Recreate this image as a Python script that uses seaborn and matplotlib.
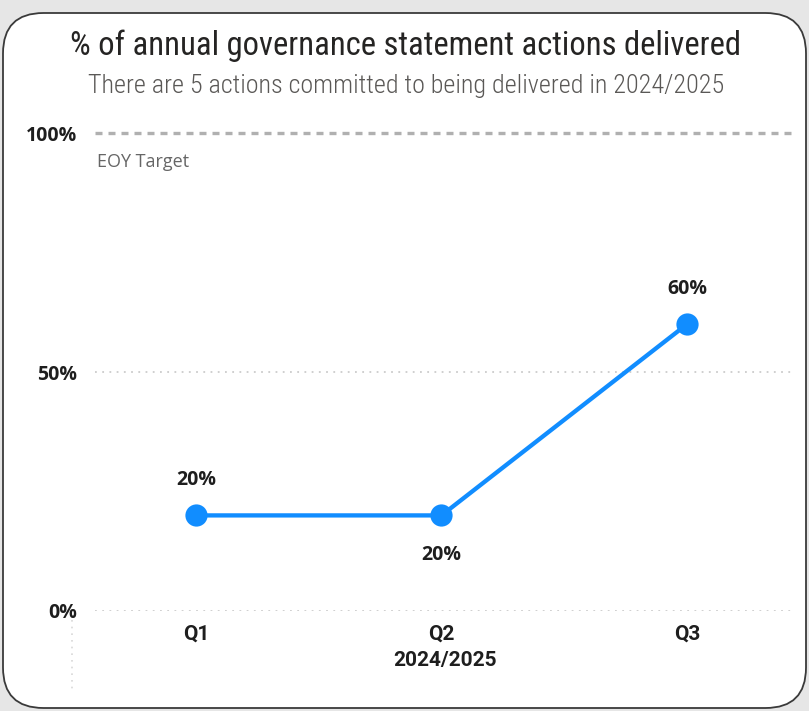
import matplotlib
matplotlib.use("Agg")
import matplotlib.pyplot as plt
import seaborn as sns
import pandas as pd
from matplotlib.patches import FancyBboxPatch
from matplotlib.lines import Line2D

# ---- data ----
quarters = ["Q1", "Q2", "Q3"]
delivered = [20, 20, 60]
target = 100
y_ticks = [0, 50, 100]
y_tick_labels = ["0%", "50%", "100%"]
title = "% of annual governance statement actions delivered"
subtitle = "There are 5 actions committed to being delivered in 2024/2025"
x_title = "2024/2025"
target_label = "EOY Target"

df = pd.DataFrame({"quarter": quarters, "pct": delivered})

sns.set_theme(style="white")
plt.rcParams["font.family"] = ["Roboto", "DejaVu Sans"]

W, H = 809, 711
fig = plt.figure(figsize=(W / 100, H / 100), dpi=100)
fig.patch.set_facecolor("#e6e6e6")

# card
card = FancyBboxPatch((3 / W, 3 / H), (W - 6) / W, (H - 16) / H,
                      boxstyle="round,pad=0,rounding_size=0.05",
                      transform=fig.transFigure, facecolor="white",
                      edgecolor="#3a3a3a", linewidth=1.3, mutation_aspect=W / H, zorder=-10)
fig.patches.append(card)

ax = fig.add_axes([95 / W, (H - 611) / H, 700 / W, (611 - 118.7) / H])
ax.set_zorder(5)
ax.set_facecolor("none")

blue = "#118DFF"
sns.lineplot(data=df, x="quarter", y="pct", ax=ax, color=blue, linewidth=3.1,
             marker="o", markersize=16, markeredgewidth=0, sort=False, clip_on=False)

ax.set_xlim(-0.411, 2.44)
ax.set_ylim(0, 103)

# gridlines
for yv in y_ticks[:-1]:
    ax.axhline(yv, color="#cccccc", linestyle=(0, (1, 3)), linewidth=1.3, zorder=0)
ax.axhline(target, color="#b0b0b0", linestyle=(0, (2.1, 1.8)), linewidth=2.4, zorder=0)
ax.text(0.003, 0.912, target_label, transform=ax.transAxes, fontsize=13,
        color="#666666", family=["Open Sans", "DejaVu Sans"], va="center", ha="left")

ax.set_yticks(y_ticks)
ax.set_yticklabels(y_tick_labels, fontsize=14, fontweight="bold", color="#1e1e1e",
                   family=["Open Sans", "DejaVu Sans"])
ax.tick_params(axis="y", length=0, pad=13)
ax.tick_params(axis="x", length=0, pad=10)
ax.set_xticks(range(len(quarters)))
ax.set_xticklabels(quarters, fontsize=15, fontweight="bold", color="#1e1e1e")
ax.set_xlabel(x_title, fontsize=15, fontweight="bold", color="#1e1e1e", labelpad=5)
ax.set_ylabel("")
for s in ax.spines.values():
    s.set_visible(False)

# data labels
offsets = [1, -1, 1]
for i, (q, v) in enumerate(zip(quarters, delivered)):
    dy = 25.5 if offsets[i] > 0 else -28.5
    ax.annotate(f"{v}%", (i, v), xytext=(0, dy), textcoords="offset points",
                ha="center", va="center", fontsize=14, fontweight="bold", color="#1e1e1e",
                family=["Open Sans", "DejaVu Sans"])

# titles
fig.text(406 / W, 1 - 46 / H, title, ha="center", va="center", fontsize=23.5,
         color="#252423", family=["Roboto Condensed", "Roboto", "DejaVu Sans"], fontweight="normal")
fig.text(406 / W, 1 - 86 / H, subtitle, ha="center", va="center", fontsize=18.8,
         color="#5a5856", family=["Roboto Condensed", "Roboto", "DejaVu Sans"], fontweight="light")

# faint dotted vertical line left of axis bottom
fig.add_artist(Line2D([72 / W, 72 / W], [1 - 620 / H, 1 - 690 / H], transform=fig.transFigure,
                      color="#d8d8d8", linestyle=(0, (1, 3)), linewidth=1.2))

fig.savefig("out.png", dpi=100, facecolor=fig.get_facecolor())
